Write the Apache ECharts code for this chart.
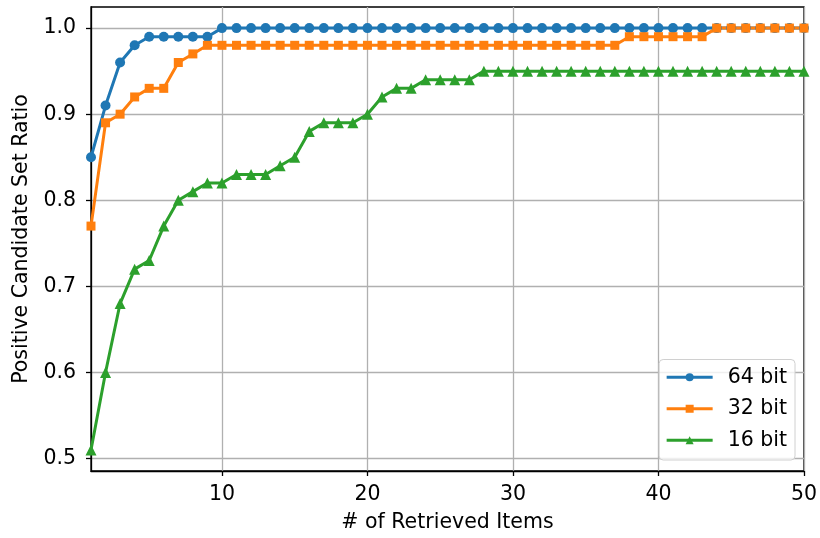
<!DOCTYPE html>
<html>
<head>
<meta charset="utf-8">
<script src="https://cdn.jsdelivr.net/npm/echarts@6/dist/echarts.min.js"></script>
<style>
  html, body { margin: 0; padding: 0; background: #fff; }
  #container { width: 820px; height: 538px; }
</style>
</head>
<body>
<div id="container"></div>
<script>
var items = [1, 2, 3, 4, 5, 6, 7, 8, 9, 10, 11, 12, 13, 14, 15, 16, 17, 18, 19, 20,
  21, 22, 23, 24, 25, 26, 27, 28, 29, 30, 31, 32, 33, 34, 35, 36, 37, 38, 39, 40,
  41, 42, 43, 44, 45, 46, 47, 48, 49, 50]
var bit64 = [0.85, 0.91, 0.96, 0.98, 0.99, 0.99, 0.99, 0.99, 0.99, 1.00,
  1.00, 1.00, 1.00, 1.00, 1.00, 1.00, 1.00, 1.00, 1.00, 1.00,
  1.00, 1.00, 1.00, 1.00, 1.00, 1.00, 1.00, 1.00, 1.00, 1.00,
  1.00, 1.00, 1.00, 1.00, 1.00, 1.00, 1.00, 1.00, 1.00, 1.00,
  1.00, 1.00, 1.00, 1.00, 1.00, 1.00, 1.00, 1.00, 1.00, 1.00]
var bit32 = [0.77, 0.89, 0.90, 0.92, 0.93, 0.93, 0.96, 0.97, 0.98, 0.98,
  0.98, 0.98, 0.98, 0.98, 0.98, 0.98, 0.98, 0.98, 0.98, 0.98,
  0.98, 0.98, 0.98, 0.98, 0.98, 0.98, 0.98, 0.98, 0.98, 0.98,
  0.98, 0.98, 0.98, 0.98, 0.98, 0.98, 0.98, 0.99, 0.99, 0.99,
  0.99, 0.99, 0.99, 1.00, 1.00, 1.00, 1.00, 1.00, 1.00, 1.00]
var bit16 = [0.51, 0.60, 0.68, 0.72, 0.73, 0.77, 0.80, 0.81, 0.82, 0.82,
  0.83, 0.83, 0.83, 0.84, 0.85, 0.88, 0.89, 0.89, 0.89, 0.90,
  0.92, 0.93, 0.93, 0.94, 0.94, 0.94, 0.94, 0.95, 0.95, 0.95,
  0.95, 0.95, 0.95, 0.95, 0.95, 0.95, 0.95, 0.95, 0.95, 0.95,
  0.95, 0.95, 0.95, 0.95, 0.95, 0.95, 0.95, 0.95, 0.95, 0.95]
var xTicks = [10, 20, 30, 40, 50]
var yTicks = [0.5, 0.6, 0.7, 0.8, 0.9, 1.0]
var names = ['64 bit', '32 bit', '16 bit']

var font = 'DejaVu Sans'
var fs = 20.5
var myChart = echarts.init(document.getElementById('container'))

function pairs(vals){
    var out = []
    for(let i = 0; i < items.length; i++){
        out.push([items[i], vals[i]])
    }
    return out
}

function line(name, vals, color, symbol, size){
    return {
        name: name,
        type: 'line',
        data: pairs(vals),
        symbol: symbol,
        symbolSize: size,
        showAllSymbol: true,
        color: color,
        lineStyle: { width: 3, color: color },
        itemStyle: { color: color },
        emphasis: { disabled: true },
        animation: false
    }
}

var option = {
    backgroundColor: '#fff',
    textStyle: { fontFamily: font },
    grid: {
        left: 91, right: 14, top: 7, bottom: 67,
        show: true, borderColor: '#000', borderWidth: 1.3, containLabel: false
    },
    legend: {
        data: names,
        orient: 'vertical',
        right: 25,
        bottom: 78,
        itemWidth: 46,
        itemHeight: 10,
        itemGap: 8,
        padding: [6, 8, 8, 6],
        backgroundColor: 'rgba(255,255,255,0.8)',
        borderColor: '#d0d0d0',
        borderWidth: 1,
        borderRadius: 4,
        lineStyle: { width: 3 },
        textStyle: { fontFamily: font, fontSize: fs, lineHeight: 23.5, color: '#000', padding: [0, 0, 0, 10] }
    },
    xAxis: {
        type: 'value',
        min: 1,
        max: 50,
        name: '# of Retrieved Items',
        nameLocation: 'middle',
        nameGap: 41,
        nameTextStyle: { fontFamily: font, fontSize: fs, color: '#000' },
        axisLine: { show: true, lineStyle: { color: '#000', width: 1.3 } },
        axisTick: { show: true, length: 5, lineStyle: { color: '#000', width: 1.3 }, customValues: xTicks },
        axisLabel: { fontFamily: font, fontSize: fs, color: '#000', margin: 13, customValues: xTicks },
        splitLine: { show: true, lineStyle: { color: '#b0b0b0', width: 1.3 } }
    },
    yAxis: {
        type: 'value',
        min: 0.4855,
        max: 1.0245,
        name: 'Positive Candidate Set Ratio',
        nameLocation: 'middle',
        nameGap: 57,
        nameTextStyle: { fontFamily: font, fontSize: fs, color: '#000' },
        axisLine: { show: true, lineStyle: { color: '#000', width: 1.3 } },
        axisTick: { show: true, length: 5, lineStyle: { color: '#000', width: 1.3 }, customValues: yTicks },
        axisLabel: { fontFamily: font, fontSize: fs, color: '#000', margin: 15, customValues: yTicks,
            formatter: function(v){ return v.toFixed(1) } },
        splitLine: { show: true, lineStyle: { color: '#b0b0b0', width: 1.3 } }
    },
    series: [
        line(names[0], bit64, '#1f77b4', 'circle', 10),
        line(names[1], bit32, '#ff7f0e', 'rect', 9),
        line(names[2], bit16, '#2ca02c', 'triangle', 11)
    ]
}

myChart.setOption(option, true)
</script>
</body>
</html>
